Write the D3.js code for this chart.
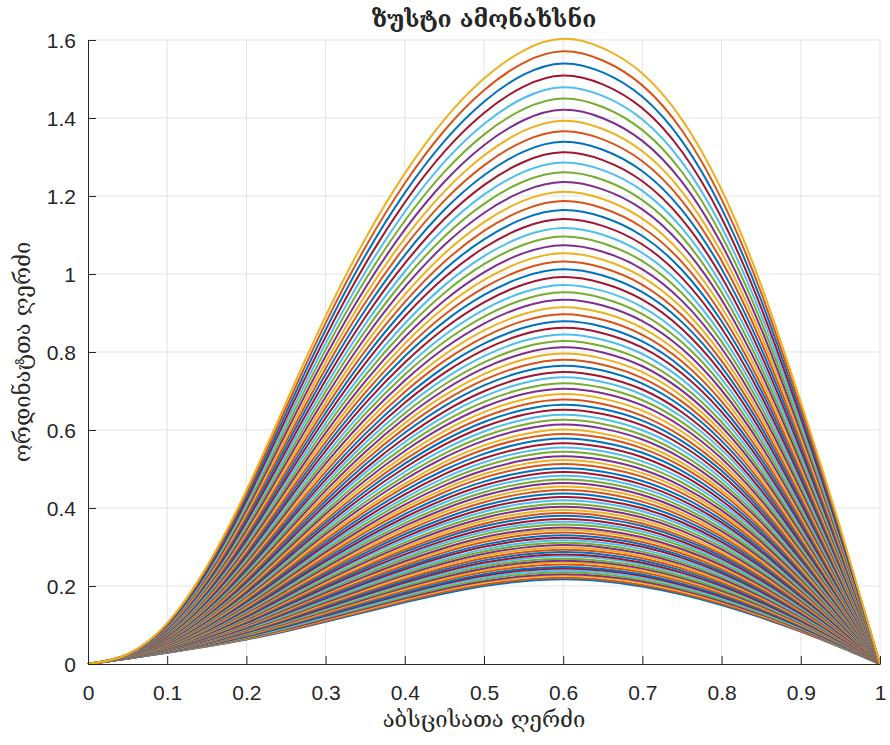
<!DOCTYPE html>
<html>
<head>
<meta charset="utf-8">
<script src="https://cdn.jsdelivr.net/npm/d3@7"></script>
<style>
  body { margin: 0; background: #fff; }
  svg text { fill: #262626; }
</style>
</head>
<body>
<div id="chart"></div>
<script>
var xs = [0, 0.05, 0.1, 0.15, 0.2, 0.25, 0.3, 0.35, 0.4, 0.45, 0.5,
          0.55, 0.6, 0.65, 0.7, 0.75, 0.8, 0.85, 0.9, 0.95, 1];
// highest curve (last drawn)
var topCurve = [0, 0.025, 0.105, 0.250, 0.445, 0.670, 0.892, 1.090, 1.258, 1.396, 1.501,
                1.573, 1.603, 1.579, 1.514, 1.396, 1.216, 0.971, 0.671, 0.348, 0];
// lowest curve (first drawn)
var bottomCurve = [0, 0.014, 0.029, 0.045, 0.063, 0.084, 0.108, 0.133, 0.158, 0.181, 0.200,
                   0.212, 0.217, 0.212, 0.199, 0.178, 0.151, 0.119, 0.083, 0.043, 0];
// peak value (at x = 0.6) of each of the 101 curves, bottom to top
var peaks = [0.217, 0.221, 0.226, 0.230, 0.235, 0.240, 0.245, 0.249, 0.255, 0.260,
             0.265, 0.270, 0.276, 0.281, 0.287, 0.293, 0.299, 0.305, 0.311, 0.317,
             0.324, 0.330, 0.337, 0.344, 0.350, 0.358, 0.365, 0.372, 0.380, 0.387,
             0.395, 0.403, 0.411, 0.420, 0.428, 0.437, 0.446, 0.455, 0.464, 0.473,
             0.483, 0.492, 0.502, 0.513, 0.523, 0.533, 0.544, 0.555, 0.566, 0.578,
             0.590, 0.601, 0.614, 0.626, 0.639, 0.652, 0.665, 0.678, 0.692, 0.706,
             0.720, 0.735, 0.749, 0.765, 0.780, 0.796, 0.812, 0.828, 0.845, 0.862,
             0.879, 0.897, 0.915, 0.934, 0.953, 0.972, 0.992, 1.012, 1.032, 1.053,
             1.074, 1.096, 1.118, 1.141, 1.164, 1.187, 1.211, 1.236, 1.261, 1.286,
             1.312, 1.339, 1.366, 1.393, 1.421, 1.450, 1.479, 1.509, 1.540, 1.571,
             1.603];
var colors = ["#0072BD", "#D95319", "#EDB120", "#7E2F8E", "#77AC30", "#4DBEEE", "#A2142F"];
var xTicks = [0, 0.1, 0.2, 0.3, 0.4, 0.5, 0.6, 0.7, 0.8, 0.9, 1];
var yTicks = [0, 0.2, 0.4, 0.6, 0.8, 1, 1.2, 1.4, 1.6];
var titleText = "ზუსტი ამონახსნი";
var xLabel = "აბსცისათა ღერძი";
var yLabel = "ორდინატთა ღერძი";

var W = 890, H = 745;
var plotLeft = 88, plotRight = 880, plotTop = 40, plotBottom = 664;

var svg = d3.select("#chart").append("svg")
  .attr("width", W).attr("height", H);

var x = d3.scaleLinear().domain([0, 1]).range([plotLeft, plotRight]);
var y = d3.scaleLinear().domain([0, 1.6]).range([plotBottom, plotTop]);

// grid
svg.append("g").selectAll("line").data(xTicks.slice(1)).enter().append("line")
  .attr("x1", d => x(d)).attr("x2", d => x(d))
  .attr("y1", plotTop).attr("y2", plotBottom)
  .attr("stroke", "#e3e3e3").attr("stroke-width", 1);
svg.append("g").selectAll("line").data(yTicks.slice(1)).enter().append("line")
  .attr("x1", plotLeft).attr("x2", plotRight)
  .attr("y1", d => y(d)).attr("y2", d => y(d))
  .attr("stroke", "#e3e3e3").attr("stroke-width", 1);

// curves: each one sits between the lowest and highest profile, by its peak
var lo = peaks[0], hi = peaks[peaks.length - 1];
var line = d3.line()
  .x(d => x(d[0]))
  .y(d => y(d[1]))
  .curve(d3.curveNatural);

svg.append("g").selectAll("path").data(peaks).enter().append("path")
  .attr("d", function (p) {
    var w = (p - lo) / (hi - lo);
    return line(xs.map((xv, j) => [xv, bottomCurve[j] + w * (topCurve[j] - bottomCurve[j])]));
  })
  .attr("fill", "none")
  .attr("stroke", (d, i) => colors[i % 7])
  .attr("stroke-width", 2);

// axes (ticks pointing inward, MATLAB style)
var xAxis = svg.append("g")
  .attr("transform", "translate(0," + plotBottom + ")")
  .call(d3.axisTop(x).tickValues(xTicks).tickFormat(d3.format("~g")).tickSize(8).tickSizeOuter(0));
xAxis.selectAll("text")
  .attr("y", 36).attr("dy", 0)
  .style("font-family", "'Liberation Sans', Arial, sans-serif")
  .style("font-size", "21px");

var yAxis = svg.append("g")
  .attr("transform", "translate(" + plotLeft + ",0)")
  .call(d3.axisRight(y).tickValues(yTicks).tickFormat(d3.format("~g")).tickSize(8).tickSizeOuter(0));
yAxis.selectAll("text")
  .attr("x", -12).attr("dy", "0.36em")
  .attr("text-anchor", "end")
  .style("font-family", "'Liberation Sans', Arial, sans-serif")
  .style("font-size", "21px");

svg.selectAll(".domain, .tick line").attr("stroke", "#262626").attr("stroke-width", 1);
svg.selectAll(".tick text").attr("fill", "#262626");

// labels
svg.append("text")
  .attr("x", (plotLeft + plotRight) / 2).attr("y", 27)
  .attr("text-anchor", "middle")
  .style("font-family", "'DejaVu Serif', 'DejaVu Sans', serif")
  .style("font-weight", "bold")
  .style("font-size", "23px")
  .attr("fill", "#000")
  .text(titleText);

svg.append("text")
  .attr("x", (plotLeft + plotRight) / 2).attr("y", 727)
  .attr("text-anchor", "middle")
  .style("font-family", "'DejaVu Serif', 'DejaVu Sans', serif")
  .style("font-size", "22px")
  .text(xLabel);

svg.append("text")
  .attr("transform", "translate(30," + ((plotTop + plotBottom) / 2) + ") rotate(-90)")
  .attr("text-anchor", "middle")
  .style("font-family", "'DejaVu Serif', 'DejaVu Sans', serif")
  .style("font-size", "22px")
  .text(yLabel);
</script>
</body>
</html>
